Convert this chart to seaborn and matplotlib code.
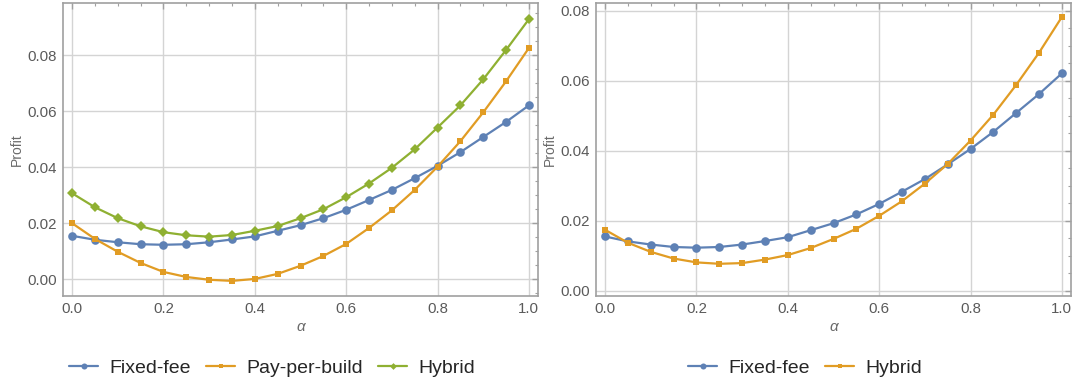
import numpy as np
import pandas as pd
import seaborn as sns
import matplotlib.pyplot as plt
from matplotlib.ticker import MultipleLocator

alpha = [0.0, 0.05, 0.1, 0.15, 0.2, 0.25, 0.3, 0.35, 0.4, 0.45, 0.5,
         0.55, 0.6, 0.65, 0.7, 0.75, 0.8, 0.85, 0.9, 0.95, 1.0]

# left panel
fixed_fee = [0.0155, 0.0141, 0.0132, 0.0125, 0.0123, 0.0125, 0.0132, 0.0142, 0.0153, 0.0173, 0.0193,
             0.0218, 0.0248, 0.0283, 0.0319, 0.0361, 0.0405, 0.0454, 0.0508, 0.0562, 0.0621]
pay_per_build = [0.0200, 0.0144, 0.0098, 0.0058, 0.0026, 0.0008, -0.0002, -0.0006, 0.0001, 0.0019, 0.0048,
                 0.0083, 0.0126, 0.0183, 0.0246, 0.0319, 0.0402, 0.0493, 0.0596, 0.0707, 0.0826]
hybrid = [0.0307, 0.0257, 0.0218, 0.0189, 0.0168, 0.0157, 0.0152, 0.0158, 0.0173, 0.0190, 0.0218,
          0.0250, 0.0293, 0.0342, 0.0398, 0.0464, 0.0542, 0.0621, 0.0714, 0.0819, 0.0929]

# right panel
fixed_fee_2 = fixed_fee
hybrid_2 = [0.0174, 0.0137, 0.0111, 0.0092, 0.0081, 0.0077, 0.0079, 0.0089, 0.0102, 0.0122, 0.0148,
            0.0177, 0.0214, 0.0256, 0.0306, 0.0362, 0.0429, 0.0503, 0.0588, 0.0680, 0.0782]

blue = "#5E81B5"
orange = "#E19C24"
green = "#8FB032"

sns.set_style("white")
plt.rcParams['font.family'] = ['Liberation Sans', 'DejaVu Sans']

fig = plt.figure(figsize=(10.72, 3.86), dpi=100)
ax1 = fig.add_axes([63 / 1072, 1 - 296 / 386, 475 / 1072, 293 / 386])
ax2 = fig.add_axes([596 / 1072, 1 - 296 / 386, 475 / 1072, 293 / 386])

left = pd.DataFrame({"alpha": alpha * 3,
                     "profit": fixed_fee + pay_per_build + hybrid,
                     "scheme": ["Fixed-fee"] * 21 + ["Pay-per-build"] * 21 + ["Hybrid"] * 21})
right = pd.DataFrame({"alpha": alpha * 2,
                      "profit": fixed_fee_2 + hybrid_2,
                      "scheme": ["Fixed-fee"] * 21 + ["Hybrid"] * 21})

sizes = {"o": 6.2, "s": 4.0, "D": 4.9}


def draw(ax, df, names, colors, markers):
    for name, c, m in zip(names, colors, markers):
        sub = df[df["scheme"] == name]
        sns.lineplot(data=sub, x="alpha", y="profit", ax=ax, color=c, marker=m,
                     markersize=sizes[m], markeredgewidth=0, linewidth=1.6, label=name)
    ax.legend_.remove()


def style(ax, ylim):
    ax.set_xlim(-0.02, 1.02)
    ax.set_ylim(*ylim)
    ax.xaxis.set_major_locator(MultipleLocator(0.2))
    ax.xaxis.set_minor_locator(MultipleLocator(0.05))
    ax.yaxis.set_major_locator(MultipleLocator(0.02))
    ax.yaxis.set_minor_locator(MultipleLocator(0.005))
    ax.xaxis.set_major_formatter(lambda v, p: f"{v:.1f}")
    ax.yaxis.set_major_formatter(lambda v, p: f"{v:.2f}")
    ax.grid(True, which="major", color="#d4d4d4", linewidth=1.0)
    ax.set_axisbelow(True)
    for s in ax.spines.values():
        s.set_color("#a0a0a0")
        s.set_linewidth(1.2)
    ax.tick_params(which="both", direction="in", top=True, right=True, color="#a0a0a0",
                   labelsize=10.8, labelcolor="#5a5a5a", pad=4.5)
    ax.tick_params(which="major", length=4, width=1)
    ax.tick_params(which="minor", length=2.5, width=0.8)
    ax.set_xlabel("α", fontsize=11, color="#6a6a6a", style="italic", labelpad=3)
    ax.set_ylabel("Profit", fontsize=10, color="#6a6a6a", labelpad=2)


draw(ax1, left, ["Fixed-fee", "Pay-per-build", "Hybrid"], [blue, orange, green], ["o", "s", "D"])
draw(ax2, right, ["Fixed-fee", "Hybrid"], [blue, orange], ["o", "s"])
style(ax1, (-0.006, 0.0987))
style(ax2, (-0.0015, 0.0822))

for ax, cx in [(ax1, 272 / 1072), (ax2, 805 / 1072)]:
    h, l = ax.get_legend_handles_labels()
    fig.legend(h, l, loc="center", bbox_to_anchor=(cx, 1 - 368 / 386), ncol=len(l), frameon=False,
               fontsize=14, handlelength=1.5, handletextpad=0.55, columnspacing=0.8,
               markerscale=0.7)

fig.savefig("out.png", dpi=100)
